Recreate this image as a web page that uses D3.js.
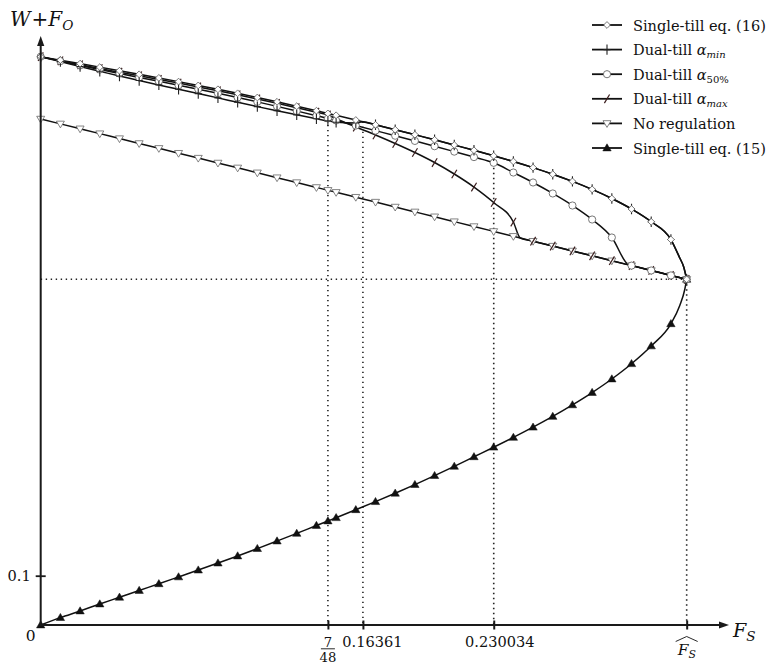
<!DOCTYPE html>
<html>
<head>
<meta charset="utf-8">
<script src="https://cdnjs.cloudflare.com/ajax/libs/d3/7.8.5/d3.min.js"></script>
<style>
  html, body { margin: 0; padding: 0; background: #fff; }
</style>
</head>
<body>
<div id="chart"></div>
<script>
// ---- data (F_S on x, W + F_O on y) ----
const FS_HAT = 0.328;

// sample points that carry a marker
const fGrid = [0, 0.01, 0.02, 0.03, 0.04, 0.05, 0.06, 0.07, 0.08, 0.09, 0.10, 0.11, 0.12, 0.13, 0.14, 7/48,
  0.15, 0.16, 0.17, 0.18, 0.19, 0.20, 0.21, 0.22, 0.23, 0.24, 0.25, 0.26, 0.27, 0.28, 0.29, 0.30, 0.31, 0.32, FS_HAT];

// Single-till eq. (16) - upper branch
const f16 = [0, 0.01, 0.02, 0.03, 0.04, 0.05, 0.06, 0.07, 0.08, 0.09, 0.10, 0.11, 0.12, 0.13, 0.14, 7/48,
  0.15, 0.16, 0.16361, 0.17, 0.18, 0.19, 0.20, 0.21, 0.22, 0.23, 0.24, 0.25, 0.26, 0.27, 0.28, 0.29, 0.30, 0.31, 0.32,
  0.3245, 0.3265, FS_HAT];
const w16 = [1.1527, 1.1458, 1.1387, 1.1316, 1.1243, 1.1170, 1.1097, 1.1022, 1.0945, 1.0866, 1.0785, 1.0700, 1.0613, 1.0523, 1.0432, 1.0377,
  1.0339, 1.0243, 1.0209, 1.0146, 1.0047, 0.9945, 0.9842, 0.9736, 0.9629, 0.9517, 0.9402, 0.9278, 0.9144, 0.8998, 0.8836, 0.8651, 0.8438, 0.8179, 0.7819,
  0.7444, 0.7262, 0.7012];

// Dual-till alpha_min (joins eq. 16 at 0.16361)
const fMin = f16;
const wMin = [1.1527, 1.1428, 1.1326, 1.1231, 1.1135, 1.1044, 1.0955, 1.0866, 1.0779, 1.0692, 1.0602, 1.0515, 1.0431, 1.0348, 1.0270, 1.0225,
  1.0197, 1.0182, 1.0209, 1.0146, 1.0047, 0.9945, 0.9842, 0.9736, 0.9629, 0.9517, 0.9402, 0.9278, 0.9144, 0.8998, 0.8836, 0.8651, 0.8438, 0.8179, 0.7819,
  0.7444, 0.7262, 0.7012];

// Dual-till alpha_50% (leaves at 0.230034, meets no regulation)
const f50 = [0, 0.01, 0.02, 0.03, 0.04, 0.05, 0.06, 0.07, 0.08, 0.09, 0.10, 0.11, 0.12, 0.13, 0.14, 7/48,
  0.15, 0.16, 0.17, 0.18, 0.19, 0.20, 0.21, 0.22, 0.23, 0.24, 0.25, 0.26, 0.27, 0.28, 0.29, 0.2985, 0.30, 0.31, 0.32, FS_HAT];
const w50 = [1.1527, 1.1438, 1.1350, 1.1267, 1.1186, 1.1107, 1.1028, 1.0949, 1.0868, 1.0785, 1.0700, 1.0611, 1.0520, 1.0426, 1.0331, 1.0274,
  1.0234, 1.0131, 1.0028, 0.9925, 0.9819, 0.9712, 0.9602, 0.9491, 0.9375, 0.9178, 0.8976, 0.8753, 0.8509, 0.8225, 0.7860, 0.7305, 0.7290, 0.7191, 0.7091, 0.7012];

// Dual-till alpha_max (leaves at 7/48, meets no regulation)
const fMax = [0, 0.01, 0.02, 0.03, 0.04, 0.05, 0.06, 0.07, 0.08, 0.09, 0.10, 0.11, 0.12, 0.13, 0.14, 7/48,
  0.15, 0.16, 0.17, 0.18, 0.19, 0.20, 0.21, 0.22, 0.23, 0.24, 0.2435, 0.25, 0.26, 0.27, 0.28, 0.29, 0.30, 0.31, 0.32, FS_HAT];
const wMax = [1.1527, 1.1443, 1.1362, 1.1286, 1.1213, 1.1140, 1.1067, 1.0992, 1.0915, 1.0836, 1.0755, 1.0670, 1.0583, 1.0493, 1.0402, 1.0347,
  1.0268, 1.0101, 0.9939, 0.9767, 0.9584, 0.9381, 0.9148, 0.8884, 0.8570, 0.8174, 0.7850, 0.7785, 0.7686, 0.7587, 0.7488, 0.7389, 0.7290, 0.7191, 0.7091, 0.7012];

// No regulation
const fNo = fGrid;
const wNo = [1.0264, 1.0165, 1.0066, 0.9967, 0.9867, 0.9768, 0.9669, 0.9570, 0.9471, 0.9372, 0.9273, 0.9173, 0.9074, 0.8975, 0.8876, 0.8818,
  0.8777, 0.8678, 0.8579, 0.8479, 0.8380, 0.8281, 0.8182, 0.8083, 0.7984, 0.7885, 0.7785, 0.7686, 0.7587, 0.7488, 0.7389, 0.7290, 0.7191, 0.7091, 0.7012];

// Single-till eq. (15) - lower branch
const f15 = [0, 0.01, 0.02, 0.03, 0.04, 0.05, 0.06, 0.07, 0.08, 0.09, 0.10, 0.11, 0.12, 0.13, 0.14, 7/48,
  0.15, 0.16, 0.17, 0.18, 0.19, 0.20, 0.21, 0.22, 0.23, 0.24, 0.25, 0.26, 0.27, 0.28, 0.29, 0.30, 0.31, 0.32, 0.3245, 0.327, FS_HAT];
const w15 = [0, 0.0150, 0.0284, 0.0426, 0.0562, 0.0700, 0.0836, 0.0975, 0.1114, 0.1256, 0.1400, 0.1550, 0.1703, 0.1858, 0.2018, 0.2110,
  0.2176, 0.2338, 0.2502, 0.2672, 0.2848, 0.3030, 0.3218, 0.3412, 0.3606, 0.3805, 0.4012, 0.4230, 0.4465, 0.4715, 0.4990, 0.5300, 0.5660, 0.6110, 0.6480, 0.6800, 0.7012];

const xTickValues = [7/48, 0.16361, 0.230034, FS_HAT];
const yTickValues = [0.1];
const W_HAT = 0.7012;

// ---- drawing ----
const width = 767, height = 664;
const serif = "DejaVu Serif";

const svg = d3.select("#chart").append("svg")
    .attr("width", width)
    .attr("height", height)
    .attr("font-family", serif);

// measure the font that actually loads and scale text to the reference widths
const probe = svg.append("text").attr("font-size", 16).text("Single-till eq. (16)");
const fs = Math.max(0.75, Math.min(1.25, 133 / probe.node().getComputedTextLength()));
probe.remove();

const x = d3.scaleLinear().domain([0, 0.35]).range([40.7, 730.0]);
const y = d3.scaleLinear().domain([0, 1.2]).range([625, 33.4]);

const line = d3.line()
    .x(d => x(d[0]))
    .y(d => y(d[1]))
    .curve(d3.curveMonotoneX);

const series = [
  {label: "eq16", f: f16, w: w16, marker: "diamond"},
  {label: "min", f: fMin, w: wMin, marker: "plus"},
  {label: "p50", f: f50, w: w50, marker: "circle"},
  {label: "max", f: fMax, w: wMax, marker: "slash"},
  {label: "noreg", f: fNo, w: wNo, marker: "triDown"},
  {label: "eq15", f: f15, w: w15, marker: "triUp"}
];

function drawMarker(g, type) {
  if (type === "diamond") {
    g.append("path").attr("d", "M0,-3.4L3.4,0L0,3.4L-3.4,0Z")
      .attr("fill", "#fff").attr("stroke", "#555").attr("stroke-width", 0.8);
  } else if (type === "plus") {
    g.append("path").attr("d", "M0,-5.2V5.2M-3.5,0H3.5")
      .attr("fill", "none").attr("stroke", "#222").attr("stroke-width", 1.1);
  } else if (type === "circle") {
    g.append("circle").attr("r", 3.6)
      .attr("fill", "#fff").attr("stroke", "#666").attr("stroke-width", 0.9);
  } else if (type === "slash") {
    g.append("path").attr("d", "M-2.6,4.3L2.6,-4.3")
      .attr("fill", "none").attr("stroke", "#3a1c1c").attr("stroke-width", 1.2);
  } else if (type === "triDown") {
    g.append("path").attr("d", "M-4,-2.7L4,-2.7L0,4Z")
      .attr("fill", "#fff").attr("stroke", "#666").attr("stroke-width", 0.8);
  } else if (type === "triUp") {
    g.append("path").attr("d", "M-4.2,2.9L4.2,2.9L0,-4.2Z")
      .attr("fill", "#111").attr("stroke", "#111").attr("stroke-width", 0.5);
  }
}

const isMarked = f => fGrid.some(gf => Math.abs(gf - f) < 1e-7);

// dotted guides
const guides = svg.append("g")
    .attr("stroke", "#222")
    .attr("stroke-width", 1.6)
    .attr("stroke-dasharray", "1.4,3.6")
    .attr("fill", "none");

guides.append("line")
    .attr("x1", x(0)).attr("x2", x(FS_HAT))
    .attr("y1", y(W_HAT)).attr("y2", y(W_HAT));

const guideTops = [wMax[fMax.indexOf(7/48)], w16[f16.indexOf(0.16361)], w50[f50.indexOf(0.23)], W_HAT];
xTickValues.forEach((v, i) => {
  guides.append("line")
      .attr("x1", x(v)).attr("x2", x(v))
      .attr("y1", y(guideTops[i])).attr("y2", y(0));
});

// curves
const curves = svg.append("g");
series.forEach(s => {
  curves.append("path")
      .datum(s.f.map((f, i) => [f, s.w[i]]))
      .attr("fill", "none")
      .attr("stroke", "#111")
      .attr("stroke-width", 1.5)
      .attr("d", line);
});

// markers (lower curves first so the top bundle stays readable)
const markerOrder = ["eq15", "noreg", "max", "p50", "min", "eq16"];
markerOrder.forEach(key => {
  const s = series.find(d => d.label === key);
  s.f.forEach((f, i) => {
    if (!isMarked(f)) return;
    const g = curves.append("g").attr("transform", `translate(${x(f)},${y(s.w[i])})`);
    drawMarker(g, s.marker);
  });
});

// axes
const axisCol = "#1a1a1a";
const x0 = x(0), y0 = y(0);
const xEnd = x.range()[1] - 1, yEnd = y.range()[1] + 2.6;

svg.append("line").attr("x1", x0).attr("x2", xEnd - 6).attr("y1", y0).attr("y2", y0)
    .attr("stroke", axisCol).attr("stroke-width", 2);
svg.append("path").attr("d", `M${xEnd},${y0}L${xEnd - 10},${y0 - 3.6}L${xEnd - 10},${y0 + 3.6}Z`)
    .attr("fill", axisCol);
svg.append("line").attr("x1", x0).attr("x2", x0).attr("y1", y0 + 1).attr("y2", yEnd + 6)
    .attr("stroke", axisCol).attr("stroke-width", 2);
svg.append("path").attr("d", `M${x0},${yEnd}L${x0 - 3.6},${yEnd + 10}L${x0 + 3.6},${yEnd + 10}Z`)
    .attr("fill", axisCol);

const xAxis = svg.append("g")
    .attr("transform", `translate(0,${y0 - 4.5})`)
    .call(d3.axisBottom(x).tickValues(xTickValues).tickSize(9).tickFormat(""));
xAxis.select(".domain").remove();
xAxis.selectAll(".tick line").attr("stroke", axisCol).attr("stroke-width", 2);

const yAxis = svg.append("g")
    .attr("transform", `translate(${x0 + 5},0)`)
    .call(d3.axisLeft(y).tickValues(yTickValues).tickSize(10).tickFormat(""));
yAxis.select(".domain").remove();
yAxis.selectAll(".tick line").attr("stroke", axisCol).attr("stroke-width", 1.8);

function label(px, py, size, txt, anchor) {
  return svg.append("text").attr("x", px).attr("y", py)
      .attr("font-size", size * fs)
      .attr("fill", "#111")
      .attr("text-anchor", anchor || "start")
      .text(txt);
}

// tick labels
label(x0 - 10, y0 + 16, 17, "0", "middle");
label(x0 - 10, y(0.1) + 5.5, 16, "0.1", "end");

// 7/48 as a fraction
const fx = x(7/48);
label(fx, y0 + 21.5, 14.5, "7", "middle");
svg.append("line").attr("x1", fx - 7).attr("x2", fx + 7)
    .attr("y1", y0 + 23.8).attr("y2", y0 + 23.8)
    .attr("stroke", "#111").attr("stroke-width", 0.9);
label(fx, y0 + 37, 14.5, "48", "middle");

label(x(0.16361) + 9.5, y0 + 22, 16, "0.16361", "middle");
label(x(0.230034) + 6, y0 + 22, 16, "0.230034", "middle");

// F_S hat label
const hx = x(FS_HAT);
const hat = label(hx - 9, y0 + 30, 17, "");
hat.append("tspan").attr("font-style", "italic").text("F");
hat.append("tspan").attr("font-style", "italic").attr("font-size", 12 * fs).attr("dy", 3).text("S");
svg.append("path").attr("d", `M${hx - 11},${y0 + 16.5}L${hx},${y0 + 11.5}L${hx + 11},${y0 + 16.5}`)
    .attr("fill", "none").attr("stroke", "#111").attr("stroke-width", 0.9);

// axis titles
const xt = label(xEnd + 4, y0 + 12, 21, "");
xt.append("tspan").attr("font-style", "italic").text("F");
xt.append("tspan").attr("font-style", "italic").attr("font-size", 15 * fs).attr("dy", 4).text("S");

const yt = label(10, 26, 22, "");
yt.append("tspan").attr("font-style", "italic").text("W");
yt.append("tspan").attr("dx", 1).text("+");
yt.append("tspan").attr("font-style", "italic").text("F");
yt.append("tspan").attr("font-style", "italic").attr("font-size", 15 * fs).attr("dy", 4).text("O");

// legend
const legendItems = [
  {marker: "diamond", parts: [["Single-till eq. (16)", null]]},
  {marker: "plus", parts: [["Dual-till ", null], ["α", "it"], ["min", "sub"]]},
  {marker: "circle", parts: [["Dual-till ", null], ["α", "it"], ["50%", "subr"]]},
  {marker: "slash", parts: [["Dual-till ", null], ["α", "it"], ["max", "sub"]]},
  {marker: "triDown", parts: [["No regulation", null]]},
  {marker: "triUp", parts: [["Single-till eq. (15)", null]]}
];

const legend = svg.append("g").attr("transform", "translate(592,25)");
legendItems.forEach((item, i) => {
  const row = legend.append("g").attr("transform", `translate(0,${i * 24.6})`);
  row.append("line").attr("x1", 0).attr("x2", 30).attr("y1", 0).attr("y2", 0)
      .attr("stroke", "#111").attr("stroke-width", 1.8);
  drawMarker(row.append("g").attr("transform", "translate(15,0)"), item.marker);
  const t = row.append("text").attr("x", 41).attr("y", 5.5)
      .attr("font-size", 16 * fs).attr("fill", "#111");
  item.parts.forEach(p => {
    const ts = t.append("tspan").text(p[0]);
    if (p[1] === "it") ts.attr("font-style", "italic");
    if (p[1] === "sub" || p[1] === "subr") {
      ts.attr("font-size", 11 * fs).attr("dy", 3);
      if (p[1] === "sub") ts.attr("font-style", "italic");
    }
  });
});
</script>
</body>
</html>
